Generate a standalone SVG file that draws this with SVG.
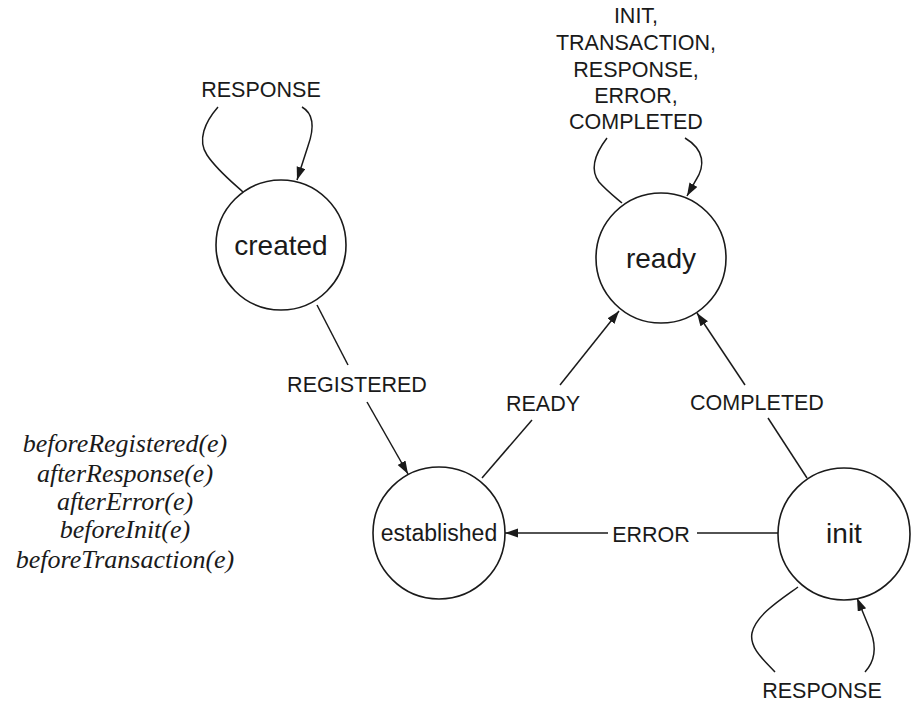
<svg xmlns="http://www.w3.org/2000/svg" width="920" height="706" viewBox="0 0 920 706">
<style>
.node{fill:#fff;stroke:#1a1a1a;stroke-width:1.6}
.edge{fill:none;stroke:#1a1a1a;stroke-width:1.5}
.st{font-family:"Liberation Sans",Arial,sans-serif;font-size:28px;fill:#1a1a1a;text-anchor:middle}
.lbl{font-family:"Liberation Sans",Arial,sans-serif;font-size:21.5px;fill:#1a1a1a;text-anchor:middle}
.cb{font-family:"Liberation Serif","Times New Roman",serif;font-style:italic;font-size:26px;fill:#1a1a1a;text-anchor:middle}
</style>
<defs>
<marker id="arr" markerUnits="userSpaceOnUse" markerWidth="14" markerHeight="10" refX="13" refY="4.5" orient="auto">
<path d="M0,0 L13,4.5 L0,9 z" fill="#1a1a1a"/>
</marker>
</defs>
<rect width="920" height="706" fill="#fff"/>
<g id="connectors">
<path class="edge" d="M218,107 C205,122 197,140 207,155 C217,170 232,182 243,192"/>
<path class="edge" d="M302,107 C316,115 313,132 308,146 L297,180" marker-end="url(#arr)"/>
<path class="edge" d="M607,138 C594,155 590,170 599,182 C607,191 615,197 622,203"/>
<path class="edge" d="M685,138 C705,150 705,166 696,180 L687,196" marker-end="url(#arr)"/>
<path class="edge" d="M798,587 C780,600 756,615 752,633 C749,648 765,661 775,672"/>
<path class="edge" d="M865,672 C876,660 876,646 871,632 L857,598" marker-end="url(#arr)"/>
<path class="edge" d="M317,305 L348,365"/>
<path class="edge" d="M367,402 L408,474" marker-end="url(#arr)"/>
<path class="edge" d="M482,478 L532,420"/>
<path class="edge" d="M560,385 L619,311" marker-end="url(#arr)"/>
<path class="edge" d="M807,478 L768,418"/>
<path class="edge" d="M745,385 L697,313" marker-end="url(#arr)"/>
<path class="edge" d="M778,533 L697,533"/>
<path class="edge" d="M608,533 L505,533" marker-end="url(#arr)"/>
<text class="lbl" x="261" y="97">RESPONSE</text>
<text class="lbl"><tspan x="636" y="23">INIT,</tspan><tspan x="636" y="50">TRANSACTION,</tspan><tspan x="636" y="77">RESPONSE,</tspan><tspan x="636" y="103">ERROR,</tspan><tspan x="636" y="129">COMPLETED</tspan></text>
<text class="lbl" x="822" y="698">RESPONSE</text>
<text class="lbl" x="357" y="392">REGISTERED</text>
<text class="lbl" x="543" y="411">READY</text>
<text class="lbl" x="757" y="410">COMPLETED</text>
<text class="lbl" x="651" y="542">ERROR</text>
</g>
<g id="created">
<circle class="node" cx="281" cy="245" r="65"/>
<text class="st" x="281" y="255">created</text>
</g>
<g id="ready">
<circle class="node" cx="661" cy="258" r="65"/>
<text class="st" x="661" y="268">ready</text>
</g>
<g id="established">
<circle class="node" cx="439" cy="533" r="66"/>
<text class="st" x="439" y="541" style="font-size:23px">established</text>
</g>
<g id="init">
<circle class="node" cx="844" cy="534" r="66"/>
<text class="st" x="844" y="543">init</text>
</g>
<g id="callbacks">
<text class="cb" x="125" y="452">beforeRegistered(e)</text>
<text class="cb" x="125" y="482">afterResponse(e)</text>
<text class="cb" x="125" y="510">afterError(e)</text>
<text class="cb" x="125" y="538">beforeInit(e)</text>
<text class="cb" x="125" y="568">beforeTransaction(e)</text>
</g>
</svg>
